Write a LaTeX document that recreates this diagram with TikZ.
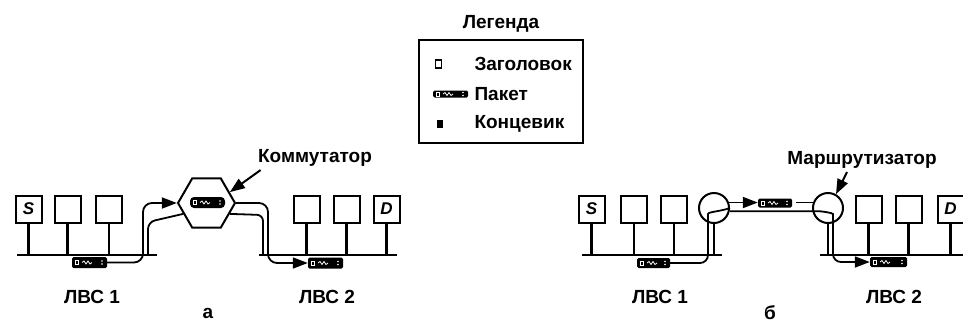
\documentclass[tikz,border=0pt]{standalone}
\usepackage{fontspec}
\setmainfont{Liberation Sans}
\usetikzlibrary{arrows.meta, shapes.geometric}

\begin{document}
\begin{tikzpicture}[x=1pt, y=-1pt,
    font=\fontsize{19}{21}\selectfont\bfseries,
    % Define the style for the stations and the cables
    station/.style={draw, line width=2pt, minimum width=26pt, minimum height=27pt,
        inner sep=0pt, font=\fontsize{17}{17}\selectfont\bfseries\itshape},
    wire/.style={line width=2.2pt},
    pipe/.style={line width=1.8pt},
    tip/.style={-{Triangle[length=15pt, width=11pt]}},
    % Define the style for a packet: header, data, trailer
    packet/.style={fill=black, rounded corners=1.5pt, minimum width=#1, minimum height=10pt,
        inner sep=0pt,
        path picture={
            \draw[white, line width=0.8pt, sharp corners] ([xshift=3pt,yshift=-2pt]path picture bounding box.west) rectangle ++(3pt,4pt);
            \draw[white, line width=0.8pt, sharp corners] ([xshift=10pt]path picture bounding box.west)
                -- ++(2pt,1.5pt) -- ++(2pt,-3pt) -- ++(2pt,3pt) -- ++(2pt,-3pt) -- ++(2pt,1.5pt);
            \fill[white] ([xshift=-5pt,yshift=1.5pt]path picture bounding box.east) circle (0.8pt)
                ([xshift=-5pt,yshift=-1.5pt]path picture bounding box.east) circle (0.8pt);
        }},
    packet/.default=35pt
]
\useasboundingbox (0,0) rectangle (963,322);

% Legend
\node (legtitle) at (501,24) {Легенда};
\node[draw, line width=2pt, minimum width=164pt, minimum height=103pt] (legend) at (500.5,91.5) {};
\node[draw, fill=white, line width=1.4pt, minimum width=6pt, minimum height=8pt, inner sep=0pt] (hdr) at (438.5,64) {};
\node[anchor=west] (hdrtxt) at (471,64) {Заголовок};
\node[packet, minimum height=7pt] (legpkt) at (450.5,94) {};
\node[anchor=west] (pkttxt) at (471,94) {Пакет};
\node[fill=black, minimum width=6pt, minimum height=8pt, inner sep=0pt] (trl) at (439.5,124) {};
\node[anchor=west] (trltxt) at (471,124) {Концевик};

% ---------- a: switch ----------
% Define the cable ends
\coordinate (busa1w) at (17,255);
\coordinate (busa1e) at (157,255);
\coordinate (busa2w) at (259,255);
\coordinate (busa2e) at (397,255);
\coordinate (ja1) at (148,255);
\coordinate (ja2) at (263,255);

% Stations
\node[station] (sa1) at (28.5,209) {S};
\node[station] (sa2) at (67.5,209) {};
\node[station] (sa3) at (109,209) {};
\node[station] (da1) at (306.5,209) {};
\node[station] (da2) at (346.5,209) {};
\node[station] (da3) at (386.5,209) {D};

% Draw the cables
\draw[wire] (busa1w) -- (busa1e);
\draw[wire] (busa2w) -- (busa2e);
\foreach \s in {sa1,sa2,sa3} \draw[wire] (\s.south) -- (\s.south |- busa1w);
\foreach \s in {da1,da2,da3} \draw[wire] (\s.south) -- (\s.south |- busa2w);

% Switch
\node[regular polygon, regular polygon sides=6, draw, line width=2pt, minimum size=57pt,
    inner sep=0pt] (sw) at (206.5,203) {};
\node[packet, minimum height=11pt, rounded corners=4pt] (psw) at (207.5,202.5) {};

% Packets on the cables
\node[packet, minimum height=11pt] (pa1) at (89.5,262.5) {};
\node[packet, minimum height=11pt] (pa2) at (325.5,263) {};

% Draw the way of the packet
\draw[pipe, tip, rounded corners=9pt] (pa1.east) -- (143,262.5) -- (143,203) -- (sw.west);
\draw[pipe, rounded corners=7pt] (ja1) -- (148,222) -- (sw.205);
\draw[pipe, tip, rounded corners=9pt] (sw.east) -- (268,203) -- (268,263) -- (pa2.west);
\draw[pipe, rounded corners=6pt] (sw.-25) -- (263,215) -- (ja2);

\node (kom) at (315,158) {Коммутатор};
\draw[pipe, line width=2pt, tip] ([xshift=6pt]kom.south west) -- (sw.25);

\node (lan1a) at (92,297) {ЛВС 1};
\node (lan2a) at (327,297) {ЛВС 2};
\node[inner sep=1pt] (capa) at (208,313) {а};

% ---------- b: router ----------
\coordinate (busb1w) at (582,255);
\coordinate (busb1e) at (722,255);
\coordinate (busb2w) at (820,255);
\coordinate (busb2e) at (975,255);

\node[station] (sb1) at (591.5,209) {S};
\node[station] (sb2) at (634,209) {};
\node[station] (sb3) at (674,209) {};
\node[station] (db1) at (868.5,209) {};
\node[station] (db2) at (908.5,209) {};
\node[station] (db3) at (950.5,209) {D};

\draw[wire] (busb1w) -- (busb1e);
\draw[wire] (busb2w) -- (busb2e);
\foreach \s in {sb1,sb2,sb3} \draw[wire] (\s.south) -- (\s.south |- busb1w);
\foreach \s in {db1,db2,db3} \draw[wire] (\s.south) -- (\s.south |- busb2w);

% Routers
\node[circle, draw, line width=2pt, minimum size=30pt, inner sep=0pt] (ra) at (714,208) {};
\node[circle, draw, line width=2pt, minimum size=30pt, inner sep=0pt] (rb) at (828,208) {};
\draw[wire] (ra.south) -- (ra.south |- busb1e);
\draw[wire] (rb.south) -- (rb.south |- busb2w);

\node[packet, minimum height=10pt, minimum width=33pt] (pb1) at (653.5,263) {};
\node[packet, minimum height=9pt, minimum width=34pt] (pl) at (775,203) {};
\node[packet, minimum height=10pt, minimum width=37pt] (pb2) at (888.5,262) {};

% Draw the way of the packet
\draw[pipe, rounded corners=8pt] (pb1.east) -- (708,263) -- (708,222) to[out=90, in=200] (ra.east);
\draw[pipe, tip] (ra.20) -- (ra.20 -| pl.west);
\draw[pipe] ([xshift=4pt]pl.east |- rb.160) -- (rb.160);
\draw[pipe, tip, rounded corners=8pt] (ra.-12) -- (rb.192) to[out=0, in=90] (833,222) -- (833,262) -- (pb2.west);

\node (mar) at (862,160) {Маршрутизатор};
\draw[pipe, line width=2pt, tip] ([xshift=-15pt]mar.south) -- (rb.60);

\node (lan1b) at (660,297) {ЛВС 1};
\node (lan2b) at (894,297) {ЛВС 2};
\node[inner sep=1pt] (capb) at (770,313) {б};

\end{tikzpicture}
\end{document}
